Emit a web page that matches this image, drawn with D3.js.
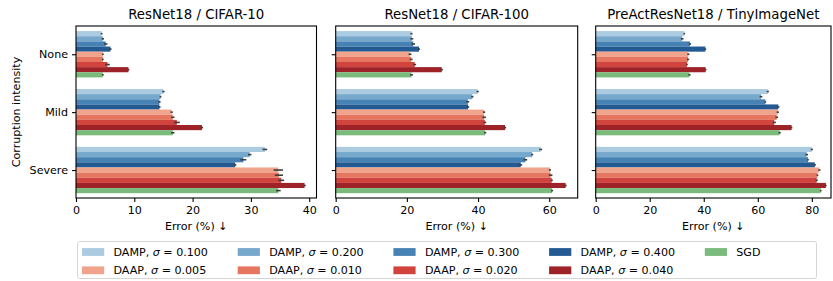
<!DOCTYPE html>
<html>
<head>
<meta charset="utf-8">
<script src="https://cdn.jsdelivr.net/npm/d3@7"></script>
<style>
  body { margin: 0; background: #fff; }
  text { font-family: "DejaVu Sans", sans-serif; }
</style>
</head>
<body>
<script>
// Panels, categories and series
var panelTitles = ["ResNet18 / CIFAR-10", "ResNet18 / CIFAR-100", "PreActResNet18 / TinyImageNet"];
var intensities = ["None", "Mild", "Severe"];
var methodNames = ["DAMP", "DAMP", "DAMP", "DAMP", "DAAP", "DAAP", "DAAP", "DAAP", "SGD"];
var sigmas = ["0.100", "0.200", "0.300", "0.400", "0.005", "0.010", "0.020", "0.040", null];
var colors = ["#abcbe0", "#76a8cc", "#4682b4", "#235a92", "#f0a48c", "#e6765f", "#d1433d", "#9e2329", "#7aba7a"];

// error (%) per series: [None, Mild, Severe]
var cifar10Err = [
    [4.4, 15.0, 32.4],
    [4.6, 14.5, 29.8],
    [5.1, 14.3, 28.7],
    [5.9, 14.3, 27.3],
    [4.6, 16.4, 34.7],
    [4.6, 16.6, 34.8],
    [5.4, 17.3, 35.2],
    [9.0, 21.6, 39.2],
    [4.6, 16.6, 34.7]
];
var cifar10Std = [
    [0.15, 0.2, 0.4],
    [0.2, 0.15, 0.3],
    [0.3, 0.2, 0.5],
    [0.2, 0.2, 0.2],
    [0.15, 0.2, 0.8],
    [0.15, 0.3, 0.7],
    [0.4, 0.5, 0.5],
    [0.15, 0.2, 0.2],
    [0.15, 0.3, 0.4]
];
var cifar100Err = [
    [21.3, 39.9, 57.6],
    [21.4, 38.4, 55.2],
    [21.8, 37.1, 53.3],
    [23.4, 37.2, 52.0],
    [20.9, 41.7, 60.2],
    [21.2, 41.7, 60.4],
    [22.2, 41.9, 60.7],
    [29.8, 47.6, 64.6],
    [21.3, 42.0, 60.8]
];
var cifar100Std = [
    [0.3, 0.3, 0.4],
    [0.4, 0.3, 0.3],
    [0.5, 0.4, 0.5],
    [0.3, 0.3, 0.4],
    [0.4, 0.3, 0.3],
    [0.4, 0.5, 0.5],
    [0.4, 0.4, 0.3],
    [0.3, 0.3, 0.3],
    [0.4, 0.3, 0.3]
];
var tinyErr = [
    [32.8, 63.7, 80.0],
    [32.0, 61.2, 78.1],
    [34.9, 62.8, 78.6],
    [40.6, 67.6, 81.1],
    [34.3, 67.4, 82.8],
    [34.2, 67.0, 82.1],
    [33.8, 66.1, 81.8],
    [40.7, 72.5, 85.2],
    [34.7, 68.1, 83.3]
];
var tinyStd = [
    [0.3, 0.4, 0.4],
    [0.5, 0.5, 0.5],
    [0.4, 0.3, 0.3],
    [0.3, 0.4, 0.4],
    [0.4, 0.4, 0.4],
    [0.4, 0.5, 0.3],
    [0.3, 0.6, 0.4],
    [0.3, 0.3, 0.3],
    [0.4, 0.4, 0.3]
];
var panelErr = [cifar10Err, cifar100Err, tinyErr];
var panelStd = [cifar10Std, cifar100Std, tinyStd];
var panelTicks = [[0, 10, 20, 30, 40], [0, 20, 40, 60], [0, 20, 40, 60, 80]];

// Layout
var W = 833, H = 281;
var axTop = 26, axBottom = 198;
var axes = [
    { left: 76, right: 316.5, xmax: 41.25 },
    { left: 335.7, right: 577.7, xmax: 68 },
    { left: 595.7, right: 831, xmax: 87.1 }
];
var fs = 11.1;
var nSeries = methodNames.length;
var barUnit = 0.8 / nSeries;

var svg = d3.select("body").append("svg")
    .attr("width", W)
    .attr("height", H);

var y = d3.scaleLinear().domain([-0.488, 2.483]).range([axTop, axBottom]);
var barH = y(barUnit) - y(0);

axes.forEach(function (ax, p) {
    var x = d3.scaleLinear().domain([0, ax.xmax]).range([ax.left, ax.right]);
    var g = svg.append("g");

    // bars
    var rows = [];
    panelErr[p].forEach(function (vals, s) {
        vals.forEach(function (v, c) {
            rows.push({ s: s, c: c, v: v, e: panelStd[p][s][c] });
        });
    });
    function yc(d) { return y(d.c + (d.s - (nSeries - 1) / 2) * barUnit); }

    g.selectAll("rect.bar")
        .data(rows)
        .enter()
        .append("rect")
        .attr("class", "bar")
        .attr("x", x(0))
        .attr("y", function (d) { return yc(d) - barH / 2; })
        .attr("width", function (d) { return x(d.v) - x(0); })
        .attr("height", barH)
        .attr("fill", function (d) { return colors[d.s]; });

    // error bars
    g.selectAll("line.err")
        .data(rows)
        .enter()
        .append("line")
        .attr("class", "err")
        .attr("x1", function (d) { return x(d.v - d.e); })
        .attr("x2", function (d) { return x(d.v + d.e); })
        .attr("y1", yc)
        .attr("y2", yc)
        .attr("stroke", "#3c3c3c")
        .attr("stroke-width", 1.6);

    // x axis
    var xAxis = d3.axisBottom(x).tickValues(panelTicks[p]).tickSize(4).tickPadding(4);
    var gx = svg.append("g")
        .attr("transform", "translate(0," + axBottom + ")")
        .call(xAxis);
    gx.select(".domain").remove();
    gx.selectAll("text").attr("font-size", fs).attr("font-family", "DejaVu Sans").attr("fill", "#000");
    gx.selectAll("line").attr("stroke", "#000").attr("stroke-width", 1.1);

    // y axis
    var yAxis = d3.axisLeft(y).tickValues([0, 1, 2]).tickSize(4).tickPadding(4)
        .tickFormat(function (i) { return p === 0 ? intensities[i] : ""; });
    var gy = svg.append("g")
        .attr("transform", "translate(" + ax.left + ",0)")
        .call(yAxis);
    gy.select(".domain").remove();
    gy.selectAll("text").attr("font-size", fs).attr("font-family", "DejaVu Sans").attr("fill", "#000");
    gy.selectAll("line").attr("stroke", "#000").attr("stroke-width", 1.1);

    // frame
    svg.append("rect")
        .attr("x", ax.left)
        .attr("y", axTop)
        .attr("width", ax.right - ax.left)
        .attr("height", axBottom - axTop)
        .attr("fill", "none")
        .attr("stroke", "#000")
        .attr("stroke-width", 1.1);

    // title
    svg.append("text")
        .attr("x", (ax.left + ax.right) / 2)
        .attr("y", 19)
        .attr("text-anchor", "middle")
        .attr("font-size", 13.3)
        .text(panelTitles[p]);

    // x label
    svg.append("text")
        .attr("x", (ax.left + ax.right) / 2)
        .attr("y", 230)
        .attr("text-anchor", "middle")
        .attr("font-size", fs)
        .text("Error (%) \u2193");
});

// y label
svg.append("text")
    .attr("transform", "translate(19.5," + ((axTop + axBottom) / 2) + ") rotate(-90)")
    .attr("text-anchor", "middle")
    .attr("font-size", fs)
    .text("Corruption intensity");

// Legend
svg.append("rect")
    .attr("x", 77.5)
    .attr("y", 241.5)
    .attr("width", 739)
    .attr("height", 37)
    .attr("rx", 2)
    .attr("fill", "#fff")
    .attr("stroke", "#d5d5d5")
    .attr("stroke-width", 1);

var legendItems = methodNames.map(function (m, i) {
    var col, row;
    if (m === "DAMP") { col = i; row = 0; }
    else if (m === "DAAP") { col = i - 4; row = 1; }
    else { col = 4; row = 0; }
    return { i: i, col: col, row: row };
});

var lg = svg.selectAll("g.leg")
    .data(legendItems)
    .enter()
    .append("g")
    .attr("class", "leg")
    .attr("transform", function (d) {
        return "translate(" + (82 + d.col * 155.7) + "," + (252 + d.row * 18.3) + ")";
    });

lg.append("rect")
    .attr("x", 0)
    .attr("y", -3.9)
    .attr("width", 22.2)
    .attr("height", 7.8)
    .attr("fill", function (d) { return colors[d.i]; });

var lt = lg.append("text")
    .attr("x", 31.5)
    .attr("y", 4)
    .attr("font-size", fs);

lt.each(function (d) {
    var t = d3.select(this);
    if (sigmas[d.i] === null) {
        t.text(methodNames[d.i]);
    } else {
        t.append("tspan").text(methodNames[d.i] + ", ");
        t.append("tspan").attr("font-style", "italic").text("\u03c3");
        t.append("tspan").text(" = " + sigmas[d.i]);
    }
});
</script>
</body>
</html>
